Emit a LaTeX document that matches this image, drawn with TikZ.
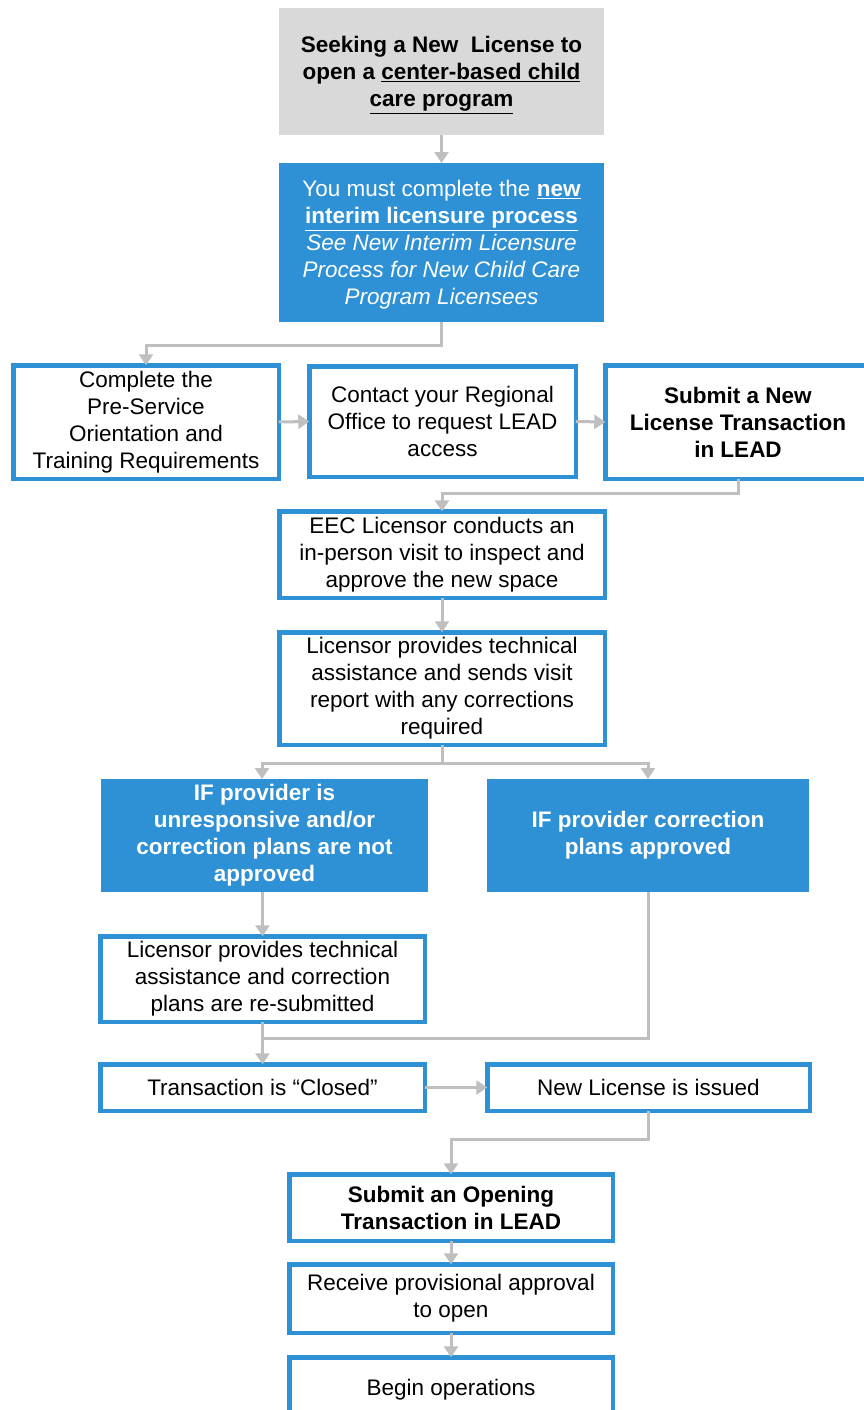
\documentclass[tikz,border=0pt]{standalone}
\usepackage{fontspec}
\setmainfont{Liberation Sans}
\usetikzlibrary{arrows.meta}
\definecolor{eecblue}{RGB}{46,144,213}
\definecolor{lgray}{RGB}{217,217,217}
\definecolor{agray}{RGB}{191,191,191}
\begin{document}
\begin{tikzpicture}[x=1pt,y=-1pt,
  every node/.style={font=\fontsize{22.5pt}{27pt}\selectfont, align=center, inner sep=0pt, outer sep=0pt},
  outbox/.style={draw=eecblue, line width=4.5pt, fill=white},
  bluebox/.style={fill=eecblue, text=white},
  graybox/.style={fill=lgray},
  conn/.style={draw=agray, line width=3pt},
  arr/.style={conn, -{Triangle[length=11pt,width=14pt]}}
]
\useasboundingbox (0,0) rectangle (863,1410);
\fill[white] (0,0) rectangle (863,1410);

\node[graybox, minimum width=325pt, minimum height=127pt] (start) at (441.5,71.5) {};
\node at (441.5,75) (starttext)
  {\textbf{Seeking a New\ \ License to}\\ \textbf{open a \underline{center-based child}}\\ \textbf{\underline{care program}}};
\node[bluebox, minimum width=325pt, minimum height=159pt] (interim) at (441.5,242.5) {};
\node[text=white] at (441.5,245) (interimtext)
  {You must complete the \textbf{\underline{new}}\\ \textbf{\underline{interim licensure process}}\\ \textit{See New Interim Licensure}\\ \textit{Process for New Child Care}\\ \textit{Program Licensees}};

\node[outbox, minimum width=265.5pt, minimum height=113.5pt] (pre) at (146,422)
  {Complete the\\ Pre-Service\\ Orientation and\\ Training Requirements};
\node[outbox, minimum width=266.5pt, minimum height=110.5pt] (contact) at (442.5,421.5)
  {Contact your Regional\\ Office to request LEAD\\ access};
\node[outbox, minimum width=272.5pt, minimum height=113.5pt] (submit) at (741.5,422) {};
\node at (738,422) (submittext) {\textbf{Submit a New}\\ \textbf{License Transaction}\\ \textbf{in LEAD}};

\node[outbox, minimum width=325.5pt, minimum height=86.5pt] (visit) at (442,554.5)
  {EEC Licensor conducts an\\ in-person visit to inspect and\\ approve the new space};
\node[outbox, minimum width=325.5pt, minimum height=112.5pt] (report) at (442,688.5)
  {Licensor provides technical\\ assistance and sends visit\\ report with any corrections\\ required};

\node[bluebox, minimum width=327pt, minimum height=113pt] (notok) at (264.5,835.5)
  {\textbf{IF provider is}\\ \textbf{unresponsive and/or}\\ \textbf{correction plans are not}\\ \textbf{approved}};
\node[bluebox, minimum width=322pt, minimum height=113pt] (ok) at (648,835.5)
  {\textbf{IF provider correction}\\ \textbf{plans approved}};

\node[outbox, minimum width=324.5pt, minimum height=85.5pt] (resub) at (262.5,979)
  {Licensor provides technical\\ assistance and correction\\ plans are re-submitted};
\node[outbox, minimum width=324.5pt, minimum height=46.5pt] (closed) at (262.5,1087.5)
  {Transaction is “Closed”};
\node[outbox, minimum width=322.5pt, minimum height=46.5pt] (issued) at (648.5,1087.5)
  {New License is issued};

\node[outbox, minimum width=323.5pt, minimum height=66.5pt] (opening) at (451,1207.5)
  {\textbf{Submit an Opening}\\ \textbf{Transaction in LEAD}};
\node[outbox, minimum width=323.5pt, minimum height=68.5pt] (prov) at (451,1298.5)
  {Receive provisional approval\\ to open};
\node[outbox, minimum width=323.5pt, minimum height=60.5pt] (begin) at (451,1387.5)
  {};
\node at (451,1390) (begintext) {Begin operations};

% connectors
\draw[arr] (start) -- (interim);
\draw[arr] (interim.south) -- ++(0,23) -| (pre.north);
\draw[arr] (pre.east) -- (contact.west);
\draw[arr] (contact.east) -- (submit.west);
\coordinate (c1) at (738,493);
\draw[arr] (submit.south -| c1) -- (c1) -| (visit.north);
\draw[arr] (visit) -- (report);
\coordinate (e1) at (442,763);
\draw[conn] (report.south) -- (e1);
\draw[arr] (e1) -| (262,779);
\draw[arr] (e1) -| (ok.north);
\draw[arr] (resub.north |- notok.south) -- (resub.north);
\coordinate (m1) at (262.5,1038);
\draw[conn] (ok.south) |- (m1);
\draw[arr] (resub.south) -- (closed.north);
\draw[arr] (closed.east) -- (issued.west);
\draw[arr] (issued.south) -- ++(0,29) -| (opening.north);
\draw[arr] (opening) -- (prov);
\draw[arr] (prov) -- (begin);
\end{tikzpicture}
\end{document}
